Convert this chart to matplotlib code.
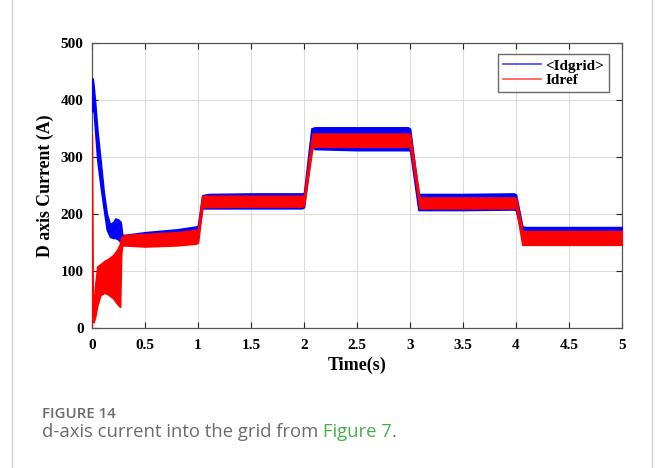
import matplotlib
matplotlib.use('Agg')
import matplotlib.pyplot as plt
from matplotlib.lines import Line2D

# envelope of <Idgrid> (blue band)
t_grid = [0, 0.005, 0.012, 0.03, 0.05, 0.08, 0.11, 0.14, 0.17, 0.2, 0.22, 0.25, 0.27, 0.285,
          0.3, 0.5, 0.8, 0.98, 1.0, 1.04, 1.1, 1.5, 1.98, 2.0, 2.07, 2.1, 2.5, 2.98, 3.0, 3.08,
          3.1, 3.5, 3.98, 4.0, 4.06, 4.1, 4.5, 5.0]
grid_hi = [420, 438, 430, 395, 348, 295, 240, 200, 182, 186, 192, 190, 186, 164,
           163, 168, 173, 178, 180, 233, 235, 236, 236, 237, 350, 352, 352, 352, 350, 235,
           235, 235, 236, 234, 178, 177, 177, 177]
grid_lo = [380, 395, 390, 345, 295, 250, 210, 172, 160, 158, 158, 155, 150, 150,
           150, 154, 157, 160, 162, 210, 210, 210, 210, 212, 318, 314, 312, 312, 312, 207,
           207, 207, 208, 206, 158, 156, 156, 156]

# Idref: start-up spike and envelope of the red band
t_spike = [0, 0.002, 0.004, 0.012, 0.02]
ref_spike = [0, 338, 300, 40, 15]

t_ref = [0.015, 0.03, 0.05, 0.08, 0.12, 0.16, 0.2, 0.24, 0.265, 0.275, 0.285, 0.3, 0.5,
         0.8, 0.98, 1.0, 1.04, 1.5, 1.98, 2.0, 2.08, 2.5, 2.98, 3.0, 3.09, 3.5, 3.98, 4.0,
         4.06, 4.5, 5.0]
ref_hi = [40, 75, 108, 112, 118, 122, 128, 138, 148, 158, 160, 163, 165,
          168, 172, 174, 232, 232, 232, 234, 341, 341, 341, 340, 229, 229, 229, 228,
          170, 170, 170]
ref_lo = [10, 20, 40, 58, 62, 58, 52, 42, 37, 130, 145, 145, 143,
          145, 148, 150, 212, 213, 213, 215, 318, 318, 318, 320, 210, 210, 210, 212,
          146, 146, 146]

x_ticks = [0, 0.5, 1, 1.5, 2, 2.5, 3, 3.5, 4, 4.5, 5]
x_labels = ['0', '0.5', '1', '1.5', '2', '2.5', '3', '3.5', '4', '4.5', '5']
y_ticks = [0, 100, 200, 300, 400, 500]

serif = 'Liberation Serif'

fig = plt.figure(figsize=(6.56, 4.68), dpi=100)
ax = fig.add_axes([92/656, 1-328/468, (622-92)/656, (328-43)/468])

ax.fill_between(t_grid, grid_lo, grid_hi, color='#0000ff', lw=1.2, edgecolor='#0000ff', zorder=3)
ax.plot(t_spike, ref_spike, color='#ff0000', lw=1.2, zorder=4)
ax.fill_between(t_ref, ref_lo, ref_hi, color='#ff0000', lw=1.2, edgecolor='#ff0000', zorder=4)

ax.set_xlim(0, 5)
ax.set_ylim(0, 500)
ax.set_xticks(x_ticks)
ax.set_xticklabels(x_labels)
ax.set_yticks(y_ticks)
ax.grid(True, color='#dcdcdc', lw=0.8)
ax.set_axisbelow(True)
ax.tick_params(direction='in', top=True, right=True, length=4, width=0.8,
               labelsize=11, colors='#222222')
ax.tick_params(axis='x', pad=8)
ax.tick_params(axis='y', pad=6)
for lab in ax.get_xticklabels() + ax.get_yticklabels():
    lab.set_fontfamily(serif)
    lab.set_fontweight('bold')
    lab.set_color('black')
for s in ax.spines.values():
    s.set_color('#555555')
    s.set_linewidth(0.9)

ax.set_xlabel('Time(s)', family=serif, weight='bold', fontsize=13, labelpad=3)
ax.set_ylabel('D axis Current (A)', family=serif, weight='bold', fontsize=12.8, labelpad=5)

handles = [Line2D([], [], color='#5050ff', lw=1.3), Line2D([], [], color='#ff6060', lw=1.3)]
leg = ax.legend(handles, ['<Idgrid>', 'Idref'], loc='upper right', fancybox=False,
                bbox_to_anchor=(0.975, 0.96), borderaxespad=0, handlelength=2.5,
                handletextpad=0.3, labelspacing=0.05, borderpad=0.3,
                prop={'family': serif, 'weight': 'bold', 'size': 11})
leg.get_frame().set_edgecolor('#444444')
leg.get_frame().set_linewidth(1.0)

# card frame
for xf in (12/656, 652/656):
    fig.add_artist(Line2D([xf, xf], [0, 1], transform=fig.transFigure, color='#d4d4d4', lw=1))

# caption
fig.text(42/656, 1-418/468, 'FIGURE 14', family='Open Sans', weight='semibold',
         fontsize=10.8, color='#6b6b6b', va='baseline')
t1 = fig.text(42/656, 1-437/468, 'd-axis current into the grid from ', family='Open Sans',
              fontsize=13.3, color='#6b6b6b', va='baseline')
t2 = ax.annotate('Figure 7', xy=(1, 0), xycoords=t1, va='bottom', ha='left',
                 family='Open Sans', fontsize=13.3, color='#45b04a', annotation_clip=False)
ax.annotate('.', xy=(1, 0), xycoords=t2, va='bottom', ha='left',
            family='Open Sans', fontsize=13.3, color='#6b6b6b', annotation_clip=False)

fig.savefig('out.png', dpi=100)
